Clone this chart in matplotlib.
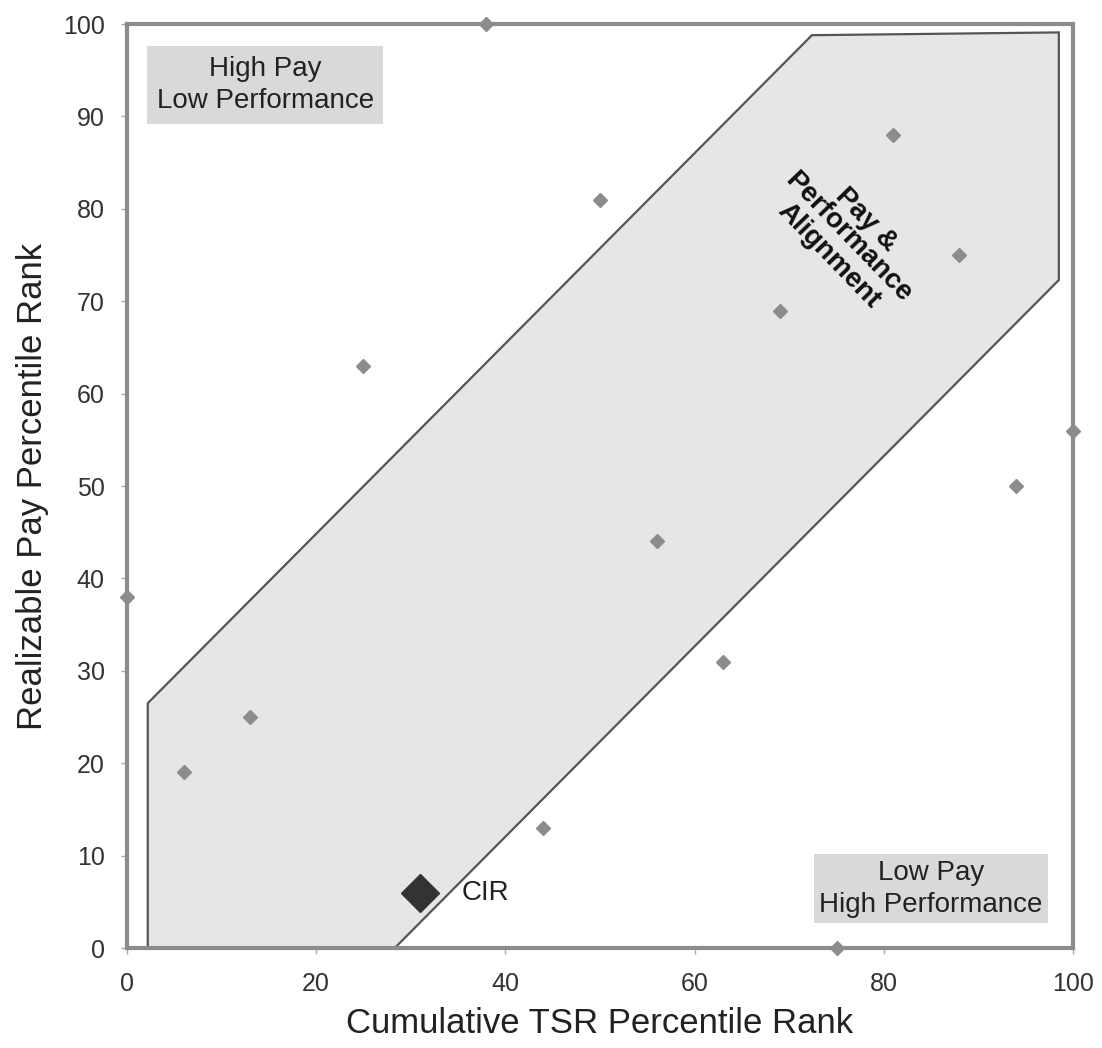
import matplotlib.pyplot as plt
from matplotlib.patches import Polygon

plt.rcParams['font.family'] = ['Liberation Sans', 'DejaVu Sans']

# peer companies: TSR percentile vs realizable pay percentile
tsr = [0, 38, 6, 13, 25, 44, 50, 56, 63, 69, 75, 81, 88, 94, 100]
pay = [38, 100, 19, 25, 63, 13, 81, 44, 31, 69, 0, 88, 75, 50, 56]

cir_tsr = 31
cir_pay = 6

# alignment band outline
band_x = [2.2, 2.2, 72.4, 98.5, 98.5, 28.3]
band_y = [0, 26.5, 98.8, 99.1, 72.3, 0]

fig = plt.figure(figsize=(11.02, 10.48), dpi=100)
ax = fig.add_axes([0.1152, 0.0954, 0.8585, 0.8816])

band = Polygon(list(zip(band_x, band_y)), closed=True, facecolor='#e6e6e6',
               edgecolor='#555555', linewidth=1.6, zorder=1)
ax.add_patch(band)

ax.plot(tsr, pay, 'D', color='#8c8c8c', markersize=7, linestyle='none',
        clip_on=False, zorder=2)
ax.plot([cir_tsr], [cir_pay], 'D', color='#333333', markersize=19, zorder=3)
ax.text(cir_tsr + 4.4, cir_pay, 'CIR', fontsize=20, color='#222222',
        va='center', ha='left')

ax.text(14.6, 93.4, 'High Pay\nLow Performance', fontsize=20, ha='center',
        va='center', color='#222222', linespacing=1.3,
        bbox=dict(boxstyle='square,pad=0.35', facecolor='#d9d9d9', edgecolor='none'))
ax.text(85.0, 6.4, 'Low Pay\nHigh Performance', fontsize=20, ha='center',
        va='center', color='#222222', linespacing=1.3,
        bbox=dict(boxstyle='square,pad=0.2', facecolor='#d9d9d9', edgecolor='none'))
ax.text(76.2, 76.9, 'Pay &\nPerformance\nAlignment', fontsize=20,
        fontweight='bold', ha='center', va='center', rotation=-46,
        rotation_mode='anchor', linespacing=1.0, color='#111111')

ax.set_xlim(0, 100)
ax.set_ylim(0, 100)
ax.set_xticks(range(0, 101, 20))
ax.set_yticks(range(0, 101, 10))
ax.tick_params(labelsize=18, colors='#333333', length=4, width=1,
               color='#aaaaaa')
ax.tick_params(axis='x', pad=13)
ax.tick_params(axis='y', pad=12)
for s in ax.spines.values():
    s.set_color('#8c8c8c')
    s.set_linewidth(3)

ax.set_xlabel('Cumulative TSR Percentile Rank', fontsize=25, color='#222222',
              labelpad=8)
ax.set_ylabel('Realizable Pay Percentile Rank', fontsize=25, color='#222222',
              labelpad=10)

fig.savefig('out.png', dpi=100)
